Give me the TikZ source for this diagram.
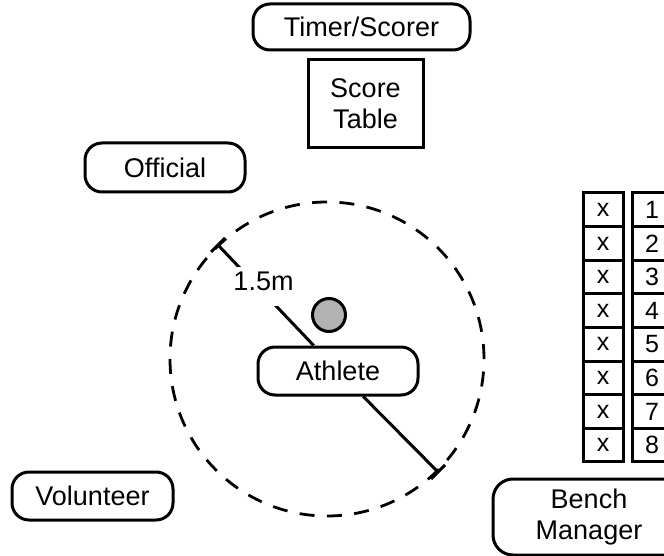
\documentclass[tikz,border=0pt]{standalone}
\usepackage{fontspec}
\setmainfont{Liberation Sans}
\begin{document}
\begin{tikzpicture}[x=1pt,y=-1pt,
  every node/.style={font=\fontsize{27}{31}\selectfont, inner sep=0pt},
  role/.style={draw, line width=3pt, rounded corners=17pt, align=center},
  tablebox/.style={draw, line width=3pt, minimum width=115pt, minimum height=88pt, align=center},
  cell/.style={draw, line width=3pt, minimum width=40pt, minimum height=33.6pt, font=\fontsize{25}{25}\selectfont},
  zone/.style={line width=2.8pt, dash pattern=on 15pt off 12.4pt},
  dimline/.style={line width=3pt},
  dimlabel/.style={fill=white, text height=23pt, text depth=16pt, inner xsep=1pt, anchor=base}]
\clip (0,0) rectangle (664,556);
\useasboundingbox (0,0) rectangle (664,556);

% people
\node[role, minimum width=217pt, minimum height=46pt] (ts) at (361.5,27) {Timer/Scorer};
\node[tablebox] (st) at (365.5,104) {Score\\Table};
\node[role, minimum width=160pt, minimum height=49pt] (off) at (165,167.5) {Official};
\node[role, minimum width=161pt, minimum height=48pt] (vol) at (92.5,496) {Volunteer};
\node[role, minimum width=192pt, minimum height=76pt, rounded corners=20pt] (bm) at (589,517) {Bench\\Manager};

% zone
\draw[zone] (327,359) circle[radius=157pt];
\node[circle, draw, line width=3pt, fill=gray!60, minimum size=33pt] (dot) at (329,315) {};
\node[role, minimum width=160pt, minimum height=48pt] (ath) at (338,371) {Athlete};

\coordinate (ea) at (218,245);
\coordinate (eb) at (438,472);
\draw[dimline] (ath) -- (ea);
\draw[dimline] (ath) -- (eb);
\draw[dimline] ([shift={(7,-7)}]ea) -- ([shift={(-7,7)}]ea);
\draw[dimline] ([shift={(7,-7)}]eb) -- ([shift={(-7,7)}]eb);
\node[dimlabel] (lbl) at (263.5,290) {1.5m};

% bench
\foreach \i in {1,...,8} {
  \node[cell] (x\i) at (603,{209.8+33.6*(\i-1)}) {x};
  \node[cell] (n\i) at (652,{209.8+33.6*(\i-1)}) {\i};
}
\end{tikzpicture}
\end{document}
